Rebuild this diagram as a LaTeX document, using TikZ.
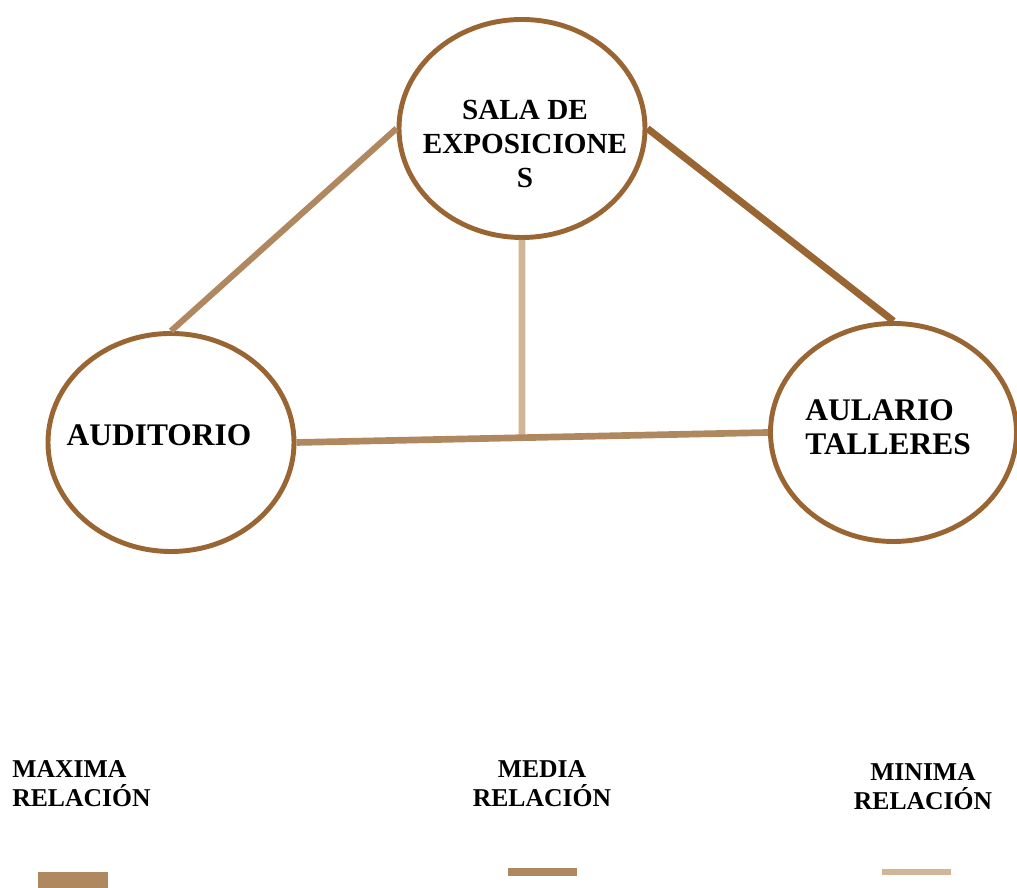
\documentclass[tikz,border=0pt]{standalone}
\usepackage{fontspec}
\setmainfont{Liberation Serif}
\usepackage{tikz}
\usetikzlibrary{shapes.geometric,calc}
\definecolor{cafe}{RGB}{153,102,51}
\definecolor{cafemedio}{RGB}{176,136,96}
\definecolor{cafeclaro}{RGB}{210,180,150}

\begin{document}
\begin{tikzpicture}
\tikzset{zona/.style={ellipse,draw=cafe,line width=2.8pt,minimum width=4.92cm,minimum height=4.36cm,inner sep=0pt}}
\tikzset{rotulo/.style={font=\bfseries\fontsize{17.9}{19.3}\selectfont,inner sep=0pt}}
\tikzset{leyenda/.style={font=\bfseries\fontsize{14.6}{16.4}\selectfont,inner sep=0pt}}
\useasboundingbox (0,0) rectangle (20.34,17.76);

\node[zona] (sala) at (10.44,15.19) {};
\node[zona] (aud) at (3.42,8.91) {};
\node[zona] (aul) at (17.87,9.11) {};

\node[rotulo,align=center,font=\bfseries\fontsize{16.6}{19.3}\selectfont] (salatxt) at (10.50,14.88) {SALA DE\\EXPOSICIONE\\S};
\node[rotulo] (audtxt) at (3.18,9.05) {AUDITORIO};
\node[rotulo,align=left,anchor=west] (aultxt) at (16.10,9.21) {AULARIO\\TALLERES};

\coordinate (cruce) at (intersection of sala.south--sala.center and aud.east--aul.west);
\draw[cafemedio, line width=3.5pt] (aud.north) -- (sala.west);
\draw[cafe, line width=4pt] (sala.east) -- (aul.north);
\draw[cafeclaro, line width=3.8pt] (sala.south) -- (cruce);
\draw[cafemedio, line width=3.8pt] (aud.east) -- (aul.west);

% leyenda
\node[leyenda,align=left,anchor=west] (maxima) at (0.24,2.08) {MAXIMA\\RELACIÓN};
\node[leyenda,align=center] (media) at (10.84,2.09) {MEDIA\\RELACIÓN};
\node[leyenda,align=center] (minima) at (18.46,2.03) {MINIMA\\RELACIÓN};
\fill[cafemedio] (0.76,0) rectangle (2.16,0.32);
\fill[cafemedio] (10.16,0.24) rectangle (11.54,0.40);
\fill[cafeclaro] (17.64,0.26) rectangle (19.02,0.38);
\end{tikzpicture}
\end{document}
